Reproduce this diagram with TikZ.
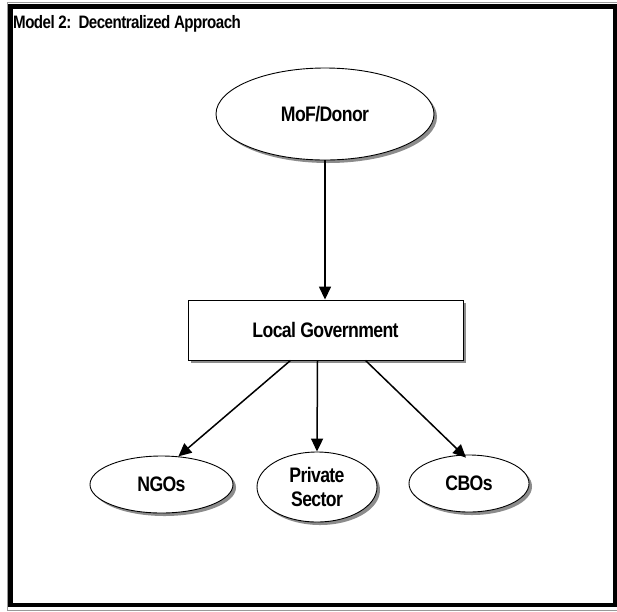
\documentclass[tikz,border=0pt]{standalone}
\usepackage{fontspec}
\setmainfont{Liberation Sans}[FakeStretch=0.84,LetterSpace=-3]
\usetikzlibrary{arrows.meta,shapes.geometric,shadows}
\begin{document}
\begin{tikzpicture}[x=1pt,y=-1pt,
  shad/.style={drop shadow={shadow xshift=3pt,shadow yshift=-3pt,fill=black!45,opacity=1}},
  oval/.style={ellipse,draw,line width=0.9pt,fill=white,inner sep=0pt,shad,align=center,
    font=\fontsize{21}{24}\selectfont\bfseries},
  rbox/.style={rectangle,draw,line width=0.9pt,fill=white,inner sep=0pt,shad,
    font=\fontsize{21}{24}\selectfont\bfseries},
  arr/.style={line width=1.5pt,-{Triangle[length=13pt,width=12pt]}},
  ttl/.style={anchor=base west,inner sep=0pt,font=\fontsize{18}{20}\selectfont\bfseries}]
\useasboundingbox (0,0) rectangle (617,611);
\fill[white] (0,0) rectangle (617,611);
\draw[black!40,line width=0.6pt] (7,2) rectangle (617,610);
\draw[line width=4.5pt] (10.5,6.5) rectangle (615.5,605);
\node[ttl] (title) at (13,28) {Model 2:\ \ Decentralized Approach};
\node[oval,minimum width=218pt,minimum height=92pt] (mof) at (325,114) {MoF/Donor};
\node[rbox,minimum width=275pt,minimum height=60pt] (lg) at (325.5,330) {Local Government};
\node[oval,minimum width=143pt,minimum height=57pt] (ngo) at (161.5,484.5) {NGOs};
\node[oval,minimum width=120pt,minimum height=70pt] (ps) at (317,487) {Private\\Sector};
\node[oval,minimum width=120pt,minimum height=57pt] (cbo) at (469,483.5) {CBOs};
\coordinate (l1) at ([xshift=-35pt]lg.south);
\coordinate (l2) at ([xshift=-8pt]lg.south);
\coordinate (l3) at ([xshift=40pt]lg.south);
\draw[arr] (mof.south) -- (mof.south |- lg.north);
\draw[arr] (l1) -- (ngo.59);
\draw[arr] (l2) -- (ps.north);
\draw[arr] (l3) -- ([yshift=-3pt]cbo.96);
\end{tikzpicture}
\end{document}
